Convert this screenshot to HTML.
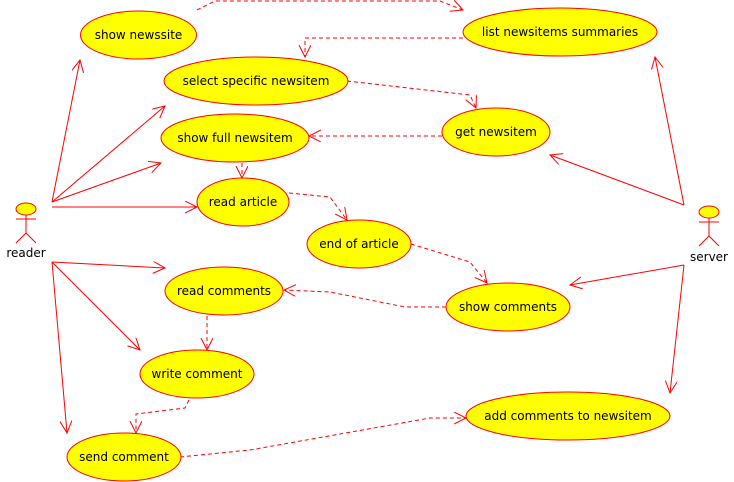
<!DOCTYPE html>
<html><head><style>body{margin:0;background:#fff}svg{display:block}</style></head><body>
<svg width="734" height="482" xmlns="http://www.w3.org/2000/svg" font-family="DejaVu Sans, sans-serif" font-size="12">
<defs><marker id="a" markerWidth="14" markerHeight="14" refX="12" refY="6" orient="auto" markerUnits="userSpaceOnUse"><path d="M0,0 L12,6 L0,12" fill="none" stroke="#f00" stroke-width="1"/></marker></defs>
<g stroke="#f00" fill="none" stroke-width="1" marker-end="url(#a)">
<line x1="52" y1="202" x2="80" y2="60"/>
<line x1="52" y1="202" x2="165" y2="106"/>
<line x1="52" y1="202" x2="161" y2="163"/>
<line x1="52" y1="207" x2="197" y2="207"/>
<line x1="52" y1="262" x2="165" y2="268"/>
<line x1="52" y1="262" x2="140" y2="350"/>
<line x1="52" y1="262" x2="67" y2="433"/>
<line x1="684" y1="205" x2="655" y2="57"/>
<line x1="684" y1="205" x2="550" y2="155"/>
<line x1="684" y1="265" x2="570" y2="285"/>
<line x1="684" y1="265" x2="670" y2="393"/>
</g>
<g stroke="#f00" fill="none" stroke-width="1" stroke-dasharray="4,3" marker-end="url(#a)">
<polyline points="197,10 215,1 440,1 463,10"/>
<polyline points="463,38 305,38 305,57"/>
<polyline points="347,81 470,95 476,108"/>
<polyline points="442,136 309,136"/>
<polyline points="242,163 242,178"/>
<polyline points="289,193 330,197 347,220"/>
<polyline points="411,244 470,262 487,283"/>
<polyline points="446,307 405,307 330,292 284,290"/>
<polyline points="207,316 207,350"/>
<polyline points="189,400 185,408 136,414 136,433"/>
<polyline points="180,457 250,450 430,418 466,418"/>
</g>
<g fill="#ff0" stroke="#f00" stroke-width="1">
<ellipse cx="138.5" cy="35" rx="58" ry="24"/>
<ellipse cx="256" cy="81" rx="92" ry="24"/>
<ellipse cx="235" cy="138" rx="74" ry="24"/>
<ellipse cx="243" cy="202" rx="46" ry="24"/>
<ellipse cx="359" cy="244" rx="52" ry="24"/>
<ellipse cx="560" cy="32" rx="97" ry="24"/>
<ellipse cx="496" cy="132" rx="54" ry="24"/>
<ellipse cx="224" cy="291" rx="59" ry="24"/>
<ellipse cx="508" cy="307" rx="62" ry="24"/>
<ellipse cx="197" cy="374" rx="57" ry="24"/>
<ellipse cx="124" cy="457" rx="57" ry="24"/>
<ellipse cx="568" cy="416" rx="102" ry="24"/>
<ellipse cx="26" cy="209" rx="10" ry="6"/>
<ellipse cx="709" cy="212" rx="10" ry="6"/>
</g>
<g stroke="#f00" fill="none">
<path d="M26,215 V233 M16,219 H36 M16,243 L26,233 L36,243"/>
<path d="M709,218 V236 M699,222 H719 M699,246 L709,236 L719,246"/>
</g>
<g fill="#000" text-anchor="middle">
<text x="138.5" y="39">show newssite</text>
<text x="256" y="85">select specific newsitem</text>
<text x="235" y="142">show full newsitem</text>
<text x="243" y="206">read article</text>
<text x="359" y="248">end of article</text>
<text x="560" y="36">list newsitems summaries</text>
<text x="496" y="136">get newsitem</text>
<text x="224" y="295">read comments</text>
<text x="508" y="311">show comments</text>
<text x="197" y="378">write comment</text>
<text x="124" y="461">send comment</text>
<text x="568" y="420">add comments to newsitem</text>
<text x="26" y="257">reader</text>
<text x="709" y="261">server</text>
</g>
</svg>
</body></html>
